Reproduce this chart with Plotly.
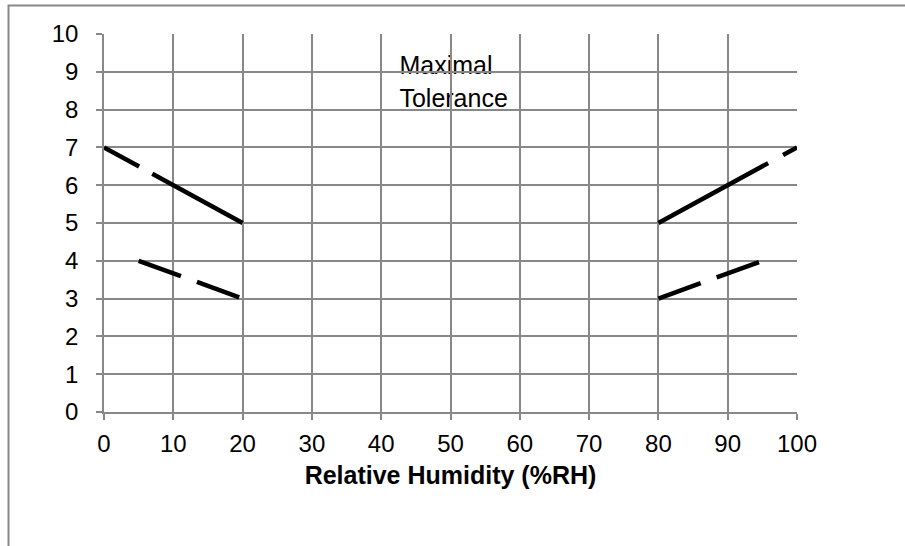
import plotly.graph_objects as go

# Data
upper_left_x = [0, 20]
upper_left_y = [7, 5]
lower_left_x = [5, 20]
lower_left_y = [4, 3]
upper_right_x = [80, 100]
upper_right_y = [5, 7]
lower_right_x = [80, 95]
lower_right_y = [3, 4]

x_ticks = [0, 10, 20, 30, 40, 50, 60, 70, 80, 90, 100]
y_ticks = [0, 1, 2, 3, 4, 5, 6, 7, 8, 9, 10]

note_lines = ["Maximal", "Tolerance"]
note_x = 42.2
note_line_y = [9.22, 8.35]

GRID = "#888888"
FONT = "Liberation Sans, Arial, sans-serif"

fig = go.Figure()

series = [
    (upper_left_x, upper_left_y, "40px,15px,200px"),
    (lower_left_x, lower_left_y, "45px,17px"),
    (upper_right_x, upper_right_y, "125px,17px,60px"),
    (lower_right_x, lower_right_y, "45px,17px"),
]
for xs, ys, dash in series:
    fig.add_trace(go.Scatter(
        x=xs, y=ys, mode="lines",
        line=dict(color="black", width=4.5, dash=dash),
        showlegend=False, hoverinfo="skip", cliponaxis=False,
    ))

# Outer chart frame (extends past the right and bottom edges of the picture)
fig.add_shape(type="rect", xref="paper", yref="paper",
              x0=-0.1378, x1=1.3, y0=-0.6, y1=1.0754,
              line=dict(color=GRID, width=2), fillcolor="rgba(0,0,0,0)",
              layer="below")

# Text lines, drawn beneath the gridlines
for txt, ty in zip(note_lines, note_line_y):
    fig.add_shape(type="rect", xref="x", yref="y",
                  x0=note_x, x1=note_x + 20, y0=ty - 0.3, y1=ty + 0.3,
                  line=dict(width=0), fillcolor="rgba(0,0,0,0)", layer="below",
                  label=dict(text=txt, textposition="middle left",
                             font=dict(family=FONT, size=25, color="black"),
                             padding=0))

fig.update_layout(
    width=905, height=546,
    margin=dict(l=104, r=108, t=34, b=134, autoexpand=False),
    paper_bgcolor="white", plot_bgcolor="white",
    font=dict(family=FONT, size=24, color="black"),
    showlegend=False,
)
fig.update_xaxes(
    range=[0, 100], tickvals=x_ticks, ticktext=[str(v) for v in x_ticks],
    showgrid=True, gridcolor=GRID, gridwidth=1.5,
    showline=True, linecolor=GRID, linewidth=1.5, mirror=False,
    ticks="outside", ticklen=6, tickwidth=1.5, tickcolor=GRID,
    tickfont=dict(family=FONT, size=24, color="black"),
    ticklabelstandoff=3,
    zeroline=False, automargin=False,
    title=dict(text="<b>Relative Humidity (%RH)</b>",
               font=dict(family=FONT, size=25, color="black"), standoff=11),
)
fig.update_yaxes(
    range=[0, 10], tickvals=y_ticks, ticktext=[str(v) for v in y_ticks],
    showgrid=True, gridcolor=GRID, gridwidth=1.5,
    showline=True, linecolor=GRID, linewidth=1.5,
    ticks="outside", ticklen=6, tickwidth=1.5, tickcolor=GRID,
    tickfont=dict(family=FONT, size=24, color="black"),
    ticklabelstandoff=13,
    zeroline=False, automargin=False,
)

fig.write_html(
    "out.html",
    config={"displayModeBar": False},
    post_script="document.body.style.margin='0';document.body.style.overflow='hidden';",
)
